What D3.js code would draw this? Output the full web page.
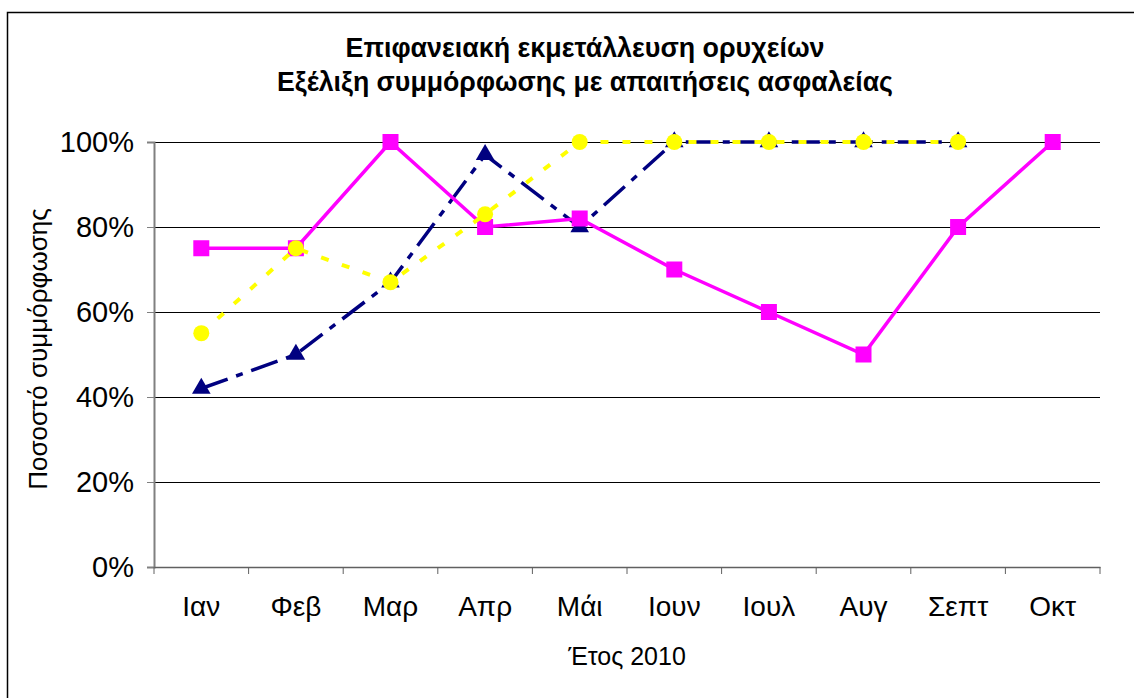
<!DOCTYPE html>
<html>
<head>
<meta charset="utf-8">
<script src="https://cdn.jsdelivr.net/npm/d3@7"></script>
<style>
  body { margin: 0; background: #fff; }
  svg { display: block; font-family: Arial, "Liberation Sans", sans-serif; }
</style>
</head>
<body>
<svg id="chart" width="1134" height="698"></svg>
<script>
// Chart data
const months = ['Ιαν', 'Φεβ', 'Μαρ', 'Απρ', 'Μάι', 'Ιουν', 'Ιουλ', 'Αυγ', 'Σεπτ', 'Οκτ'];
const magentaValues = [75, 75, 100, 80, 82, 70, 60, 50, 80, 100];
const navyValues = [42, 50, 67, 97, 80, 100, 100, 100, 100, null];
const yellowValues = [55, 75, 67, 83, 100, 100, 100, 100, 100, null];
const yTicks = [0, 20, 40, 60, 80, 100];
const titleLines = ['Επιφανειακή εκμετάλλευση ορυχείων', 'Εξέλιξη συμμόρφωσης με απαιτήσεις ασφαλείας'];

const svg = d3.select('#chart');
const FONT = 'Arial, "Liberation Sans", sans-serif';

// Outer frame
svg.append('rect')
  .attr('x', 7.5).attr('y', 12.5)
  .attr('width', 1140).attr('height', 700)
  .attr('fill', 'none')
  .attr('stroke', '#000')
  .attr('stroke-width', 1.5);

const plot = { left: 154, right: 1100, top: 142, bottom: 567 };

const x = d3.scaleBand().domain(months).range([plot.left, plot.right]);
const y = d3.scaleLinear().domain([0, 100]).range([plot.bottom, plot.top]);
const cx = d => x(d) + x.bandwidth() / 2;

// Gridlines
svg.append('g')
  .selectAll('line')
  .data(yTicks.filter(t => t > 0))
  .enter()
  .append('line')
  .attr('x1', plot.left).attr('x2', plot.right)
  .attr('y1', d => Math.round(y(d)) + 0.5)
  .attr('y2', d => Math.round(y(d)) + 0.5)
  .attr('stroke', '#000')
  .attr('stroke-width', 1);

// Y axis
const yAxis = svg.append('g')
  .attr('transform', `translate(${plot.left},0)`)
  .call(d3.axisLeft(y).tickValues(yTicks).tickSize(7).tickPadding(13).tickFormat(d => d + '%'));
yAxis.select('.domain').attr('stroke', '#808080').attr('stroke-width', 2);
yAxis.selectAll('.tick line').attr('stroke', '#808080');
yAxis.selectAll('text').attr('font-size', 29).attr('fill', '#000').attr('font-family', FONT);

// X axis
const xAxis = svg.append('g')
  .attr('transform', `translate(0,${plot.bottom})`)
  .call(d3.axisBottom(x).tickSize(0).tickPadding(29));
xAxis.select('.domain').attr('stroke', '#606060').attr('stroke-width', 1.5);
xAxis.selectAll('text').attr('font-size', 28).attr('fill', '#000').attr('font-family', FONT);

// x ticks at band boundaries
svg.append('g')
  .selectAll('line')
  .data(months.map(m => x(m)).concat([plot.right]))
  .enter()
  .append('line')
  .attr('x1', d => d).attr('x2', d => d)
  .attr('y1', plot.bottom).attr('y2', plot.bottom + 7)
  .attr('stroke', '#606060')
  .attr('stroke-width', 1);

// Series lines
function drawSeries(values, color, dash, width) {
  const line = d3.line()
    .defined(d => d != null)
    .x((d, i) => cx(months[i]))
    .y(d => y(d));
  svg.append('path')
    .datum(values)
    .attr('d', line)
    .attr('fill', 'none')
    .attr('stroke', color)
    .attr('stroke-width', width)
    .attr('stroke-dasharray', dash);
}

const pts = vals => vals.map((v, i) => ({ v, m: months[i] })).filter(d => d.v != null);

// navy first
drawSeries(navyValues, '#000080', '28,9,7,9', 3.5);
svg.append('g').selectAll('path')
  .data(pts(navyValues))
  .enter()
  .append('path')
  .attr('d', d3.symbol().type(d3.symbolTriangle).size(150))
  .attr('transform', d => `translate(${cx(d.m)},${y(d.v)})`)
  .attr('fill', '#000080');

// magenta
drawSeries(magentaValues, '#ff00ff', null, 3.5);
svg.append('g').selectAll('rect')
  .data(pts(magentaValues))
  .enter()
  .append('rect')
  .attr('x', d => cx(d.m) - 8).attr('y', d => y(d.v) - 8)
  .attr('width', 16).attr('height', 16)
  .attr('fill', '#ff00ff');

// yellow
drawSeries(yellowValues, '#ffff00', '8,14', 4);
svg.append('g').selectAll('circle')
  .data(pts(yellowValues))
  .enter()
  .append('circle')
  .attr('cx', d => cx(d.m)).attr('cy', d => y(d.v))
  .attr('r', 8)
  .attr('fill', '#ffff00');

// Title (centered, widths matched to the original)
const titleW = [479, 616];
svg.append('g').selectAll('text')
  .data(titleLines)
  .enter()
  .append('text')
  .attr('x', 585)
  .attr('y', (d, i) => 57 + i * 34)
  .attr('text-anchor', 'middle')
  .attr('textLength', (d, i) => titleW[i])
  .attr('lengthAdjust', 'spacingAndGlyphs')
  .attr('font-weight', 'bold')
  .attr('font-size', 27)
  .text(d => d);

// Axis titles
svg.append('text')
  .attr('x', 627).attr('y', 665)
  .attr('text-anchor', 'middle')
  .attr('font-size', 25)
  .text('Έτος 2010');

svg.append('text')
  .attr('transform', `translate(47,349) rotate(-90)`)
  .attr('text-anchor', 'middle')
  .attr('font-size', 26)
  .text('Ποσοστό συμμόρφωσης');
</script>
</body>
</html>
